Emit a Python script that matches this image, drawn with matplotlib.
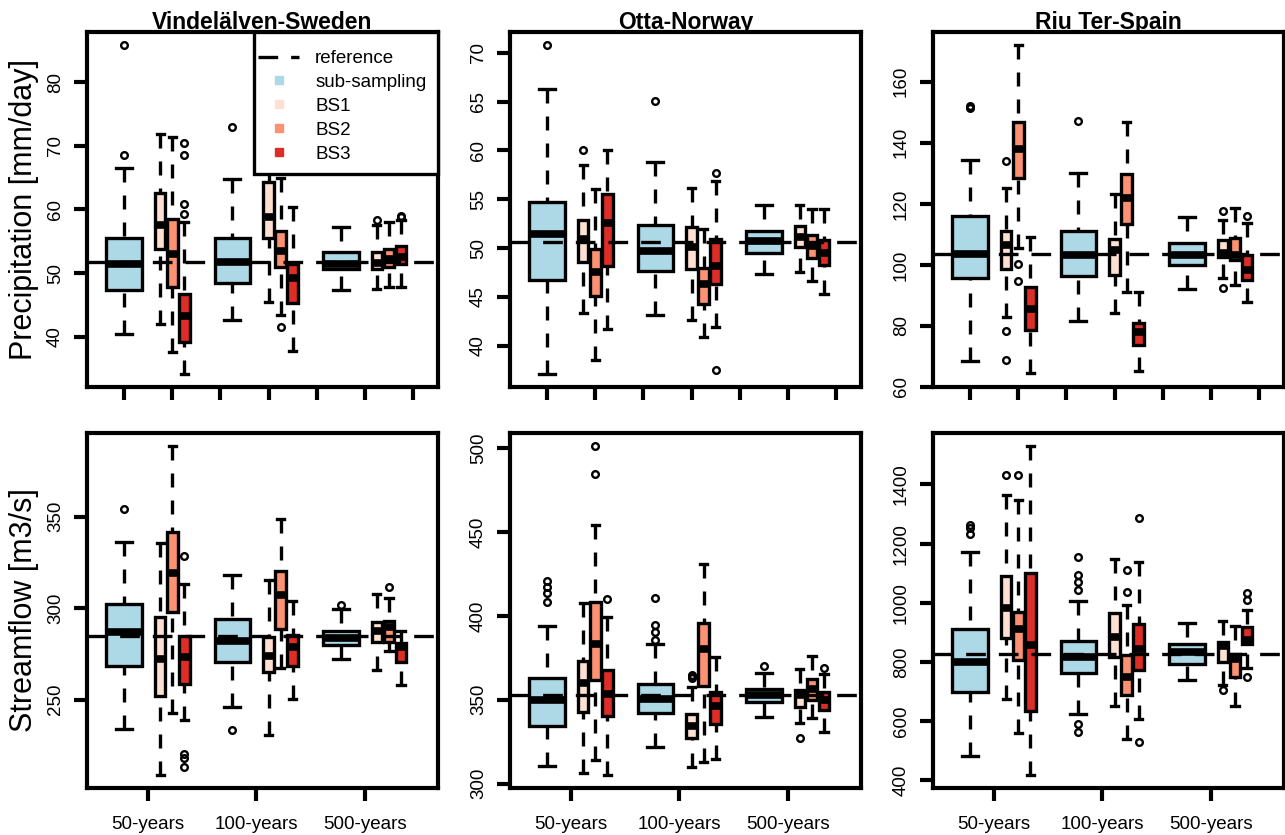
import matplotlib
matplotlib.use("Agg")
import matplotlib.pyplot as plt
from matplotlib.lines import Line2D
from matplotlib.patches import Rectangle

plt.rcParams['font.family'] = ['Liberation Sans', 'DejaVu Sans']

W, H = 1285, 835

basins = ["Vindelälven-Sweden", "Otta-Norway", "Riu Ter-Spain"]
periods = ["50-years", "100-years", "500-years"]
methods = ["sub-sampling", "BS1", "BS2", "BS3"]
colors = ["#ADD8E6", "#FEE0D2", "#FC9272", "#DE2D26"]

# [low whisker, q1, median, q3, high whisker]
# order: 50y (sub, BS1, BS2, BS3), 100y (...), 500y (...)
vind_prec = [[40.4, 47.4, 51.4, 55.5, 66.5], [42.1, 53.8, 57.5, 62.6, 71.9],
             [37.6, 47.9, 53.0, 58.5, 71.4], [34.2, 39.2, 43.3, 46.7, 58.0],
             [42.7, 48.5, 51.7, 55.5, 64.8], [45.5, 55.5, 58.9, 64.3, 70.0],
             [43.5, 50.9, 53.5, 56.7, 65.0], [37.8, 45.4, 49.3, 51.4, 60.4],
             [47.3, 50.6, 51.4, 53.4, 57.2], [47.5, 50.7, 51.6, 53.4, 57.5],
             [47.9, 50.9, 52.2, 53.8, 58.0], [47.9, 51.4, 52.5, 54.2, 58.3]]
vind_prec_out = [[68.5, 85.8], [], [], [59.3, 60.8, 68.5, 70.4],
                 [72.9], [], [41.5], [],
                 [], [58.3], [], [58.8, 59.0]]

otta_prec = [[37.1, 46.7, 51.4, 54.7, 66.3], [43.3, 48.6, 50.9, 52.9, 58.5],
             [38.5, 45.1, 47.5, 49.9, 56.1], [41.7, 48.2, 52.6, 55.5, 60.1],
             [43.1, 47.6, 49.7, 52.4, 58.8], [42.6, 47.8, 50.1, 52.2, 56.2],
             [40.9, 44.3, 46.3, 48.0, 52.0], [41.9, 46.3, 48.2, 50.9, 56.9],
             [47.3, 49.5, 50.7, 51.7, 54.4], [47.5, 50.1, 51.1, 52.3, 54.4],
             [46.6, 49.0, 50.2, 51.3, 54.0], [45.3, 48.3, 49.5, 50.8, 54.0]]
otta_prec_out = [[70.8], [60.0], [], [],
                 [65.1], [], [], [37.5, 57.7],
                 [], [], [], []]

riu_prec = [[68.4, 95.6, 103.6, 115.9, 134.3], [83.0, 98.6, 106.6, 111.2, 125.1],
            [105.5, 128.4, 137.9, 146.7, 172.0], [64.5, 78.8, 85.7, 92.9, 109.0],
            [81.5, 96.4, 103.3, 111.0, 130.2], [84.1, 96.7, 104.9, 108.5, 123.1],
            [91.2, 113.5, 121.8, 129.9, 146.7], [65.4, 73.6, 78.0, 81.0, 91.0],
            [92.1, 100.0, 103.3, 107.1, 115.7], [95.6, 102.6, 104.0, 108.2, 114.8],
            [93.4, 101.6, 103.3, 108.8, 118.7], [87.7, 95.1, 98.4, 103.3, 113.7]]
riu_prec_out = [[151.5, 152.2], [68.9, 78.2, 134.1], [94.7, 100.2], [],
                [147.3], [], [], [],
                [], [92.3, 117.6], [], [115.9]]

vind_flow = [[233.9, 268.4, 286.8, 302.4, 336.3], [208.8, 251.9, 272.1, 295.0, 335.8],
             [242.8, 297.8, 319.3, 341.5, 388.6], [238.7, 258.3, 273.0, 285.0, 313.4],
             [246.1, 270.8, 282.2, 293.8, 318.0], [230.5, 264.8, 273.9, 284.4, 315.6],
             [267.5, 288.6, 307.0, 320.2, 348.8], [250.1, 268.4, 278.5, 285.3, 303.9],
             [272.1, 279.8, 283.5, 287.7, 299.3], [266.1, 281.3, 287.7, 292.3, 307.9],
             [276.7, 281.3, 289.5, 292.8, 305.5], [257.8, 270.3, 278.5, 280.7, 287.3]]
vind_flow_out = [[354.1], [], [], [213.0, 218.0, 220.4, 328.6],
                 [233.2], [], [], [],
                 [301.5], [], [311.6], []]

otta_flow = [[310.3, 334.6, 349.6, 363.0, 394.1], [306.7, 342.6, 360.0, 373.1, 407.4],
             [314.1, 361.6, 383.5, 408.0, 454.3], [305.3, 340.6, 353.6, 367.5, 399.1],
             [322.1, 342.0, 350.6, 359.2, 383.5], [309.7, 327.3, 334.6, 341.6, 357.6],
             [312.7, 358.0, 380.5, 395.5, 431.0], [314.7, 335.6, 346.6, 354.6, 375.5],
             [339.6, 348.6, 352.6, 356.6, 366.2], [336.2, 345.6, 352.6, 355.6, 368.5],
             [339.2, 349.6, 356.6, 362.6, 375.9], [330.7, 344.2, 349.6, 354.6, 365.6]]
otta_flow_out = [[408.4, 413.8, 417.4, 421.0], [], [484.8, 501.1], [409.8],
                 [385.5, 390.5, 394.5, 410.4], [363.0, 364.2, 365.0], [], [],
                 [369.9], [327.1], [], [369.1]]

riu_flow = [[481, 698, 800, 911, 1173], [676, 882, 984, 1090, 1365],
            [559, 806, 913, 968, 1346], [419, 636, 856, 1099, 1529],
            [625, 763, 817, 870, 1006], [651, 817, 885, 967, 1148],
            [540, 687, 749, 825, 994], [608, 774, 845, 928, 1139],
            [740, 794, 834, 862, 933], [721, 800, 854, 866, 939],
            [651, 749, 811, 828, 922], [780, 862, 873, 919, 975]]
riu_flow_out = [[1233, 1252, 1263], [1431], [1431], [],
                [563, 591, 1043, 1071, 1094, 1156], [], [1035, 1111], [529, 1286],
                [], [704], [], [749, 1011, 1034]]

ref_prec = [51.8, 50.6, 103.5]
ref_flow = [284.6, 353.0, 826]

yticks_prec = [[40, 50, 60, 70, 80], [40, 45, 50, 55, 60, 65, 70], [60, 80, 100, 120, 140, 160]]
yticks_flow = [[250, 300, 350], [300, 350, 400, 450, 500], [400, 600, 800, 1000, 1200, 1400]]

panels = [
    [(vind_prec, vind_prec_out), (otta_prec, otta_prec_out), (riu_prec, riu_prec_out)],
    [(vind_flow, vind_flow_out), (otta_flow, otta_flow_out), (riu_flow, riu_flow_out)],
]
refs = [ref_prec, ref_flow]
yticks = [yticks_prec, yticks_flow]
ylabels = ["Precipitation [mm/day]", "Streamflow [m3/s]"]

# box positions: each period group = sub-sampling, then the three BS boxes
positions, widths, capw, fills = [], [], [], []
for k in range(3):
    base = 1 + 2.25 * k
    positions += [base, base + 0.75, base + 1.0, base + 1.25]
    widths += [0.74, 0.22, 0.22, 0.22]
    capw += [0.33, 0.15, 0.15, 0.15]
    fills += colors

x0, x1 = min(positions) - 0.5, max(positions) + 0.5
xpad = 0.04 * (x1 - x0)

fig = plt.figure(figsize=(W / 100, H / 100), dpi=100)

col_left = [87, 510, 933]
row_top = [32, 433]
aw, ah = 351, 355
LW = 2.4
whisk_ls = (0, (4.2, 3.9))
ref_ls = (0, (5.9, 3.9))

for r in range(2):
    for c in range(3):
        ax = fig.add_axes([col_left[c] / W, 1 - (row_top[r] + ah) / H, aw / W, ah / H])
        summ, outs = panels[r][c]
        stats = []
        for s, fl in zip(summ, outs):
            stats.append(dict(whislo=s[0], q1=s[1], med=s[2], q3=s[3], whishi=s[4], fliers=fl))
        bp = ax.bxp(stats, positions=positions, widths=widths, capwidths=capw,
                    patch_artist=True, manage_ticks=False,
                    boxprops=dict(linewidth=LW, edgecolor='black'),
                    whiskerprops=dict(linewidth=LW, linestyle=whisk_ls, color='black'),
                    capprops=dict(linewidth=LW, color='black'),
                    medianprops=dict(linewidth=5.5, color='black', solid_capstyle='butt'),
                    flierprops=dict(marker='o', markerfacecolor='none', markeredgecolor='black',
                                    markersize=4.8, markeredgewidth=1.7))
        for patch, col in zip(bp['boxes'], fills):
            patch.set_facecolor(col)
        # dashes start from the whisker end, as in R
        for wl in bp['whiskers']:
            wl.set_ydata(wl.get_ydata()[::-1])

        ax.axhline(refs[r][c], color='black', linewidth=LW, linestyle=ref_ls, zorder=4)

        vals = [v for s in summ for v in s] + [v for fl in outs for v in fl]
        lo, hi = min(vals), max(vals)
        ypad = 0.04 * (hi - lo)
        ax.set_ylim(lo - ypad, hi + ypad)
        ax.set_xlim(x0 - xpad, x1 + xpad)

        ax.set_yticks(yticks[r][c])
        ax.set_yticklabels([str(t) for t in yticks[r][c]], rotation=90, va='center')
        if r == 0:
            ax.set_xticks(range(1, 8))
            ax.set_xticklabels([])
        else:
            ax.set_xticks([1.5, 3.75, 6.0])
            ax.set_xticklabels(periods)
        ax.tick_params(axis='both', direction='out', length=9.5, width=3, labelsize=13.5)
        ax.tick_params(axis='y', pad=7)
        ax.tick_params(axis='x', pad=11)
        for sp in ax.spines.values():
            sp.set_linewidth(3)

        if r == 0:
            ax.text(0.5, 1 + 3 / ah, basins[c], transform=ax.transAxes, ha='center',
                    va='baseline', fontsize=16.5, fontweight='bold')
        if c == 0:
            fig.text(24 / W, 1 - (row_top[r] + ah / 2) / H, ylabels[r], rotation=90,
                     ha='center', va='center', fontsize=22)

        if r == 0 and c == 0:
            ax.add_patch(Rectangle(((254 - 87) / aw, 1 - 142 / ah), 1 - (254 - 87) / aw, 142 / ah,
                                   transform=ax.transAxes, facecolor='white', edgecolor='black',
                                   linewidth=LW, zorder=6, clip_on=False))
            handles = [Line2D([], [], color='black', linewidth=LW, linestyle=ref_ls)]
            handles += [Line2D([], [], marker='s', linestyle='None', markersize=6,
                               markerfacecolor=col, markeredgecolor=col) for col in colors]
            leg = ax.legend(handles, ["reference"] + methods, loc='upper left',
                            bbox_to_anchor=((258 - 87) / aw, 1 - 18 / ah), borderaxespad=0,
                            borderpad=0, frameon=False, fontsize=13.5, handlelength=2.2,
                            handletextpad=0.85, labelspacing=0.36)
            leg.set_zorder(7)

fig.savefig("out.png", dpi=100)
